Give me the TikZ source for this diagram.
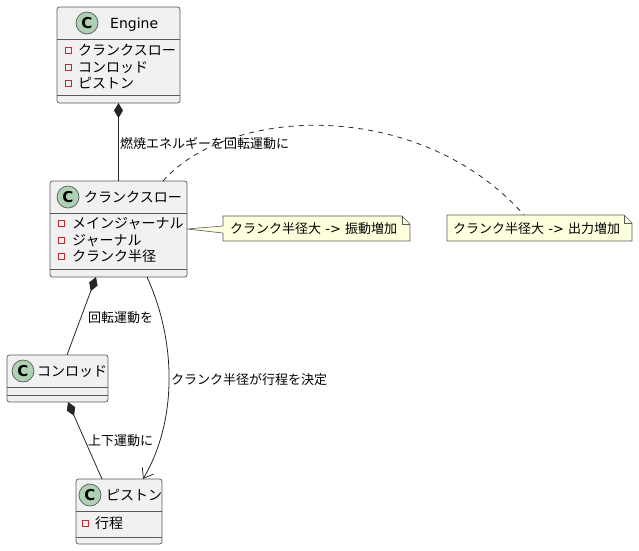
\documentclass[tikz,border=0pt]{standalone}
\usepackage{fontspec}
\setmainfont{Noto Sans CJK JP}
\newfontfamily\cfont{DejaVu Sans}
\newfontfamily\latf{DejaVu Sans}
\usetikzlibrary{arrows.meta}
\definecolor{boxfill}{HTML}{F1F1F1}
\definecolor{boxline}{HTML}{5A5A5A}
\definecolor{spotfill}{HTML}{ADD1B2}
\definecolor{notefill}{HTML}{FEFFDD}
\definecolor{privred}{HTML}{C82930}
\begin{document}
\begin{tikzpicture}[x=1pt,y=-1pt,
  classbox/.style={draw=boxline, fill=boxfill, rounded corners=2.5pt, line width=0.7pt, inner sep=0, outer sep=0},
  sepline/.style={draw=boxline, line width=0.7pt},
  spot/.style={circle, draw=boxline, fill=spotfill, line width=0.7pt, minimum size=22pt, inner sep=0, font=\cfont\bfseries\fontsize{15}{15}\selectfont},
  ctitle/.style={anchor=base west, inner sep=0, font=\fontsize{14}{16}\selectfont},
  attr/.style={anchor=base west, inner sep=0, font=\fontsize{14}{16}\selectfont},
  priv/.style={rectangle, draw=privred, line width=0.7pt, minimum size=6pt, inner sep=0},
  lbl/.style={anchor=base west, inner sep=0, font=\fontsize{13}{15}\selectfont},
  conn/.style={draw=black!85, line width=0.8pt},
  comp/.style={conn, {Diamond[length=15pt,width=9pt]}-},
  assoc/.style={conn, -{Straight Barb[length=9pt,width=13pt]}},
  notebox/.style={draw=boxline, fill=notefill, line width=0.6pt, line join=miter},
  notelink/.style={draw=black!85, line width=0.8pt, dash pattern=on 5pt off 5pt},
]
\useasboundingbox (0,0) rectangle (639,550);

% class boxes (used as anchors for connectors)
\node[classbox, minimum width=123pt, minimum height=96pt] (engine) at (118.5,55) {};
\node[classbox, minimum width=137pt, minimum height=96pt] (crank) at (118.5,229) {};
\node[classbox, minimum width=101pt, minimum height=47pt] (conrod) at (57.5,378.5) {};
\node[classbox, minimum width=86pt, minimum height=65pt] (piston) at (119,511.5) {};

\coordinate (n2top) at (524,215);
\draw[notelink] ([xshift=44.5pt]crank.north) .. controls (230,105) and (420,98) .. (n2top);

\draw[comp] (engine.south) -- (crank.north);
\draw[comp] ([xshift=-22.5pt]crank.south) -- ([xshift=9.5pt]conrod.north);
\draw[comp] ([xshift=10.5pt]conrod.south) -- ([xshift=-17pt]piston.north);
\draw[assoc] ([xshift=28.5pt]crank.south) .. controls (176,340) and (178,420) .. ([xshift=24pt]piston.north);

\node[lbl] (l1) at (120,148) {燃焼エネルギーを回転運動に};
\node[lbl] (l2) at (88,322) {回転運動を};
\node[lbl] (l3) at (88,445) {上下運動に};
\node[lbl] (l4) at (171,384) {クランク半径が行程を決定};

\draw[sepline] ([yshift=-32pt]engine.north west) -- ([yshift=-32pt]engine.north east);
\draw[sepline] ([yshift=8pt]engine.south west) -- ([yshift=8pt]engine.south east);
\draw[sepline] ([yshift=-32pt]crank.north west) -- ([yshift=-32pt]crank.north east);
\draw[sepline] ([yshift=8pt]crank.south west) -- ([yshift=8pt]crank.south east);
\draw[sepline] ([yshift=-32pt]conrod.north west) -- ([yshift=-32pt]conrod.north east);
\draw[sepline] ([yshift=7pt]conrod.south west) -- ([yshift=7pt]conrod.south east);
\draw[sepline] ([yshift=-32pt]piston.north west) -- ([yshift=-32pt]piston.north east);
\draw[sepline] ([yshift=7pt]piston.south west) -- ([yshift=7pt]piston.south east);

% Engine
\node[spot] (es) at (87,23) {C};
\node[ctitle, font=\latf\fontsize{14}{16}\selectfont] (et) at (110,28) {Engine};
\node[priv] (ep1) at (68.5,50) {};
\node[priv] (ep2) at (68.5,67) {};
\node[priv] (ep3) at (68.5,83.5) {};
\node[attr] (ea1) at (78,55) {クランクスロー};
\node[attr] (ea2) at (78,72) {コンロッド};
\node[attr] (ea3) at (78,88.5) {ピストン};

% Crank throw
\node[spot] (cs) at (68,197) {C};
\node[ctitle] (ct) at (84,202) {クランクスロー};
\node[priv] (cp1) at (61.5,223) {};
\node[priv] (cp2) at (61.5,240) {};
\node[priv] (cp3) at (61.5,256.5) {};
\node[attr] (ca1) at (72,228) {メインジャーナル};
\node[attr] (ca2) at (72,245) {ジャーナル};
\node[attr] (ca3) at (72,261.5) {クランク半径};

% Conrod
\node[spot] (rs) at (23,371) {C};
\node[ctitle] (rt) at (37,376) {コンロッド};

% Piston
\node[spot] (ps) at (90,495) {C};
\node[ctitle] (pt) at (106,500) {ピストン};
\node[priv] (pp1) at (85.5,523) {};
\node[attr] (pa1) at (95,528) {行程};

% Note 1 with tail to crank throw
\path[notebox] (223,216) -- (402,216) -- (410,224) -- (410,241) -- (223,241) -- (223,233) -- (crank.east) -- (223,226) -- cycle;
\draw[notebox, fill=none] (402,216) -- (402,224) -- (410,224);
\node[lbl] (note1) at (230,233.5) {クランク半径大{\latf\ -> }振動増加};

% Note 2
\path[notebox] (447,215) -- (624,215) -- (632,223) -- (632,241) -- (447,241) -- cycle;
\draw[notebox, fill=none] (624,215) -- (624,223) -- (632,223);
\node[lbl] (note2) at (453,233) {クランク半径大{\latf\ -> }出力増加};
\end{tikzpicture}
\end{document}
